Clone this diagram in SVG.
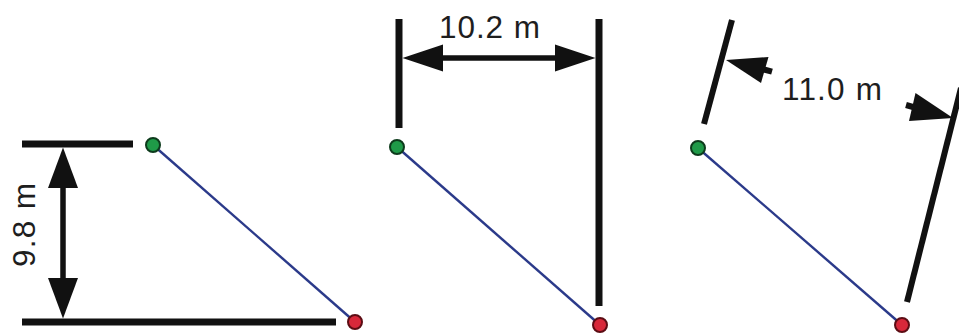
<svg xmlns="http://www.w3.org/2000/svg" width="959" height="334" viewBox="0 0 959 334">
  <style>
    .bar { stroke: #111; stroke-width: 7; fill: none; }
    .shaft { stroke: #111; stroke-width: 5.5; fill: none; }
    .head { fill: #111; stroke: none; }
    .path { stroke: #2b3a8a; stroke-width: 2.4; fill: none; }
    .start { fill: #1f9a48; stroke: #0d3b1c; stroke-width: 2; }
    .end { fill: #d8283a; stroke: #5c0d14; stroke-width: 2; }
    .lbl { font-family: "Liberation Sans", Arial, sans-serif; font-size: 31.5px; fill: #1e1e1e; }
  </style>
  <rect width="959" height="334" fill="#ffffff"/>

  <!-- Panel 1: vertical distance -->
  <g id="panel1">
    <line class="bar" x1="22" y1="144" x2="133" y2="144"/>
    <line class="bar" x1="22" y1="322" x2="336" y2="322"/>
    <line class="shaft" x1="63" y1="185" x2="63" y2="281"/>
    <polygon class="head" points="63,147.5 48,188 78,188"/>
    <polygon class="head" points="63,318.5 48,278 78,278"/>
    <text class="lbl" transform="translate(35,225) rotate(-90)" text-anchor="middle" textLength="84" lengthAdjust="spacing">9.8 m</text>
  </g>

  <!-- Panel 2: horizontal distance -->
  <g id="panel2">
    <line class="bar" x1="399" y1="19" x2="399" y2="128"/>
    <line class="bar" x1="599" y1="19" x2="599" y2="306"/>
    <line class="shaft" x1="440" y1="58" x2="558" y2="58"/>
    <polygon class="head" points="402.5,58 443,44.5 443,71.5"/>
    <polygon class="head" points="595.5,58 555,44.5 555,71.5"/>
    <text class="lbl" x="439" y="38" textLength="101" lengthAdjust="spacing">10.2 m</text>
  </g>

  <!-- Panel 3: perpendicular distance -->
  <g id="panel3">
    <line class="bar" x1="732" y1="20" x2="704" y2="124" style="stroke-width:6"/>
    <line class="bar" x1="961" y1="88" x2="907" y2="302" style="stroke-width:6"/>
    <line class="shaft" x1="764" y1="69.5" x2="772" y2="71.7" style="stroke-width:6"/>
    <polygon class="head" points="726,60 768.5,57 761,83"/>
    <line class="shaft" x1="913" y1="107" x2="906" y2="105" style="stroke-width:6"/>
    <polygon class="head" points="953,118 915.5,93 909,121"/>
    <text class="lbl" x="782" y="100" textLength="100" lengthAdjust="spacing">11.0 m</text>
  </g>

  <!-- Connectors: straight paths between the points -->
  <g id="connectors">
    <line class="path" x1="153" y1="145" x2="355" y2="322"/>
    <line class="path" x1="397" y1="147" x2="600" y2="325"/>
    <line class="path" x1="698" y1="148" x2="902" y2="325"/>
  </g>

  <!-- Points -->
  <g id="start1"><circle class="start" cx="153" cy="145" r="7"/></g>
  <g id="end1"><circle class="end" cx="355" cy="322" r="7"/></g>
  <g id="start2"><circle class="start" cx="397" cy="147" r="7"/></g>
  <g id="end2"><circle class="end" cx="600" cy="325" r="7"/></g>
  <g id="start3"><circle class="start" cx="698" cy="148" r="7"/></g>
  <g id="end3"><circle class="end" cx="902" cy="325" r="7"/></g>
</svg>
